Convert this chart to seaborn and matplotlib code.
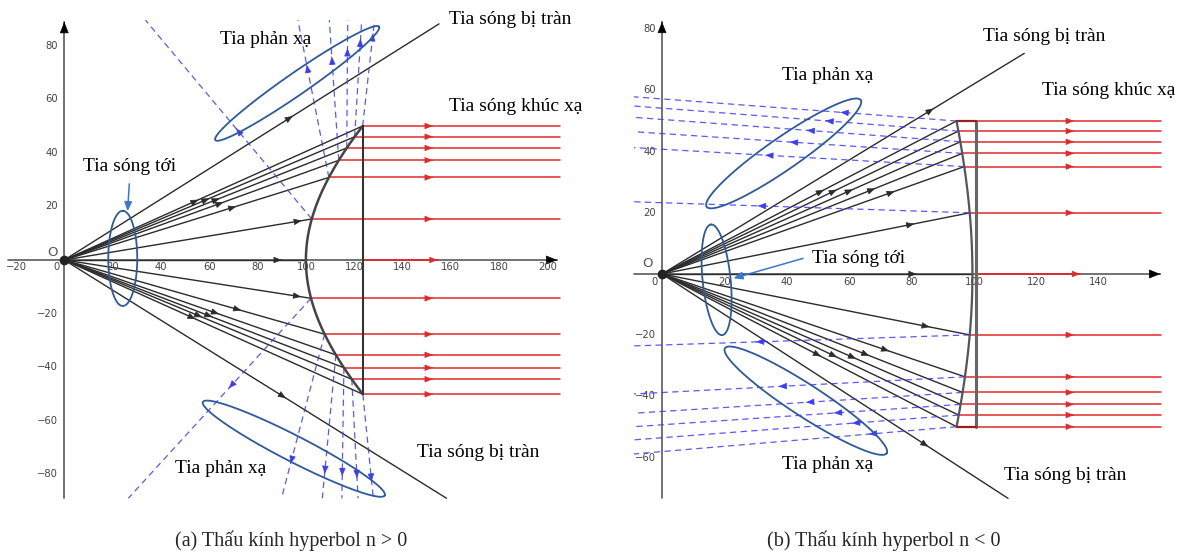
import numpy as np
import pandas as pd
import matplotlib
matplotlib.use("Agg")
import matplotlib.pyplot as plt
import seaborn as sns

sns.set_theme(style="white")
plt.rcParams["font.family"] = ["Liberation Serif", "DejaVu Serif"]

# ---------------- Panel (a): hyperbolic lens, n > 0 ----------------
a_vertex, a_semi_b = 100.0, 69.0          # x^2/a^2 - y^2/b^2 = 1
a_face_x = 123.5                           # flat back face
a_hits_top = [50.0, 46.0, 41.8, 37.2, 30.8, 15.3]
a_hits_bot = [-14.3, -27.7, -35.4, -40.2, -44.5, -50.1]
a_refl_top_x = [128.4, 123.1, 117.3, 109.7, 96.7, 33.6]
a_refl_top_y = 89.5
a_refl_bot_x = [26.5, 89.9, 106.8, 114.9, 121.6, 127.9]
a_refl_bot_y = -88.9
a_spill = [(155.1, 88.1), (158.2, -88.9)]
a_out_x = 205.0
a_xticks = [-20, 20, 40, 60, 80, 100, 120, 140, 160, 180, 200]
a_yticks = [80, 60, 40, 20, -20, -40, -60, -80]

# ---------------- Panel (b): hyperbolic lens, n < 0 ----------------
b_vertex, b_semi_a, b_semi_b = 99.5, 30.0, 82.3
b_face_x = 100.7
b_hits_top = [50.0, 46.7, 43.2, 39.4, 35.1, 20.0]
b_hits_bot = [-19.9, -33.6, -38.7, -42.6, -46.1, -49.9]
b_refl_x = -9.0
b_refl_top_y = [57.9, 54.9, 51.2, 46.5, 41.3, 23.6]
b_refl_bot_y = [-23.5, -39.2, -45.5, -49.9, -54.2, -58.8]
b_spill = [(116.1, 72.1), (110.9, -73.3)]
b_out_x = 160.0
b_xticks = [20, 40, 60, 80, 100, 120, 140]
b_yticks = [80, 60, 40, 20, -20, -40, -60]

RAY = "#2b2b2b"
RED = "#e02a2a"
BLUE = "#3b3bff"
RING = "#2c5a9e"
AXIS = "#5a5a5a"
TICK = "#444444"


def lens_a(y):
    return a_vertex * np.sqrt(1 + (np.asarray(y) / a_semi_b) ** 2)


def lens_b(y):
    return b_vertex - b_semi_a * (np.sqrt(1 + (np.asarray(y) / b_semi_b) ** 2) - 1)


def head(ax, tip, direction, color, size=9, z=5):
    d = np.asarray(direction, float)
    d = d / np.hypot(*d) * 0.02
    ax.annotate("", xy=tip, xytext=(tip[0] - d[0], tip[1] - d[1]),
                arrowprops=dict(arrowstyle="-|>,head_length=0.55,head_width=0.22",
                                fc=color, ec=color, lw=0.5, shrinkA=0, shrinkB=0,
                                mutation_scale=size), zorder=z)


def segments(ax, segs, color, lw, ls="-", alpha=1.0, z=2):
    rows = []
    for k, (p, q) in enumerate(segs):
        rows.append({"x": p[0], "y": p[1], "ray": k})
        rows.append({"x": q[0], "y": q[1], "ray": k})
    df = pd.DataFrame(rows)
    sns.lineplot(data=df, x="x", y="y", units="ray", estimator=None, sort=False,
                 color=color, lw=lw, ls=ls, alpha=alpha, ax=ax, legend=False, zorder=z)


def along(p, q, f):
    return (p[0] + (q[0] - p[0]) * f, p[1] + (q[1] - p[1]) * f)


def ring(ax, center, semi_major, semi_minor, angle):
    # ellipse drawn with its size given in screen pixels
    t0 = ax.transData.transform((0, 0))
    sx = ax.transData.transform((1, 0))[0] - t0[0]
    sy = ax.transData.transform((0, 1))[1] - t0[1]
    t = np.linspace(0, 2 * np.pi, 300)
    th = np.radians(angle)
    u, v = semi_major * np.cos(t), semi_minor * np.sin(t)
    dx = u * np.cos(th) - v * np.sin(th)
    dy = u * np.sin(th) + v * np.cos(th)
    ax.plot(center[0] + dx / sx, center[1] + dy / sy, color=RING, lw=1.3, zorder=6)


def axes_cross(ax, xlo, xhi, ylo, yhi, xticks, yticks, xlab_dy, ylab_dx, zero_pos, o_pos):
    ax.plot([xlo, xhi], [0, 0], color=AXIS, lw=1.2, zorder=1)
    ax.plot([0, 0], [ylo, yhi], color=AXIS, lw=1.2, zorder=1)
    head(ax, (xhi, 0), (1, 0), "black", size=13, z=3)
    head(ax, (0, yhi), (0, 1), "black", size=13, z=3)
    for t in xticks:
        ax.text(t, xlab_dy, f"{t}".replace("-", "\u2212"), ha="center", va="center",
                fontsize=7.2, color=TICK, family="DejaVu Sans")
    for t in yticks:
        ax.text(ylab_dx, t, f"{t}".replace("-", "\u2212"), ha="right", va="center",
                fontsize=7.2, color=TICK, family="DejaVu Sans")
    ax.text(zero_pos[0], zero_pos[1], "0", ha="center", va="center",
            fontsize=7.2, color=TICK, family="DejaVu Sans")
    ax.text(o_pos[0], o_pos[1], "O", ha="center", va="center",
            fontsize=9.5, color="#555555", family="DejaVu Sans")
    ax.plot([0], [0], "o", color="#222222", ms=6, zorder=8)


fig = plt.figure(figsize=(11.89, 5.56), dpi=100)
axA = fig.add_axes([0, 46 / 556, 595 / 1189, 510 / 556])
axB = fig.add_axes([600 / 1189, 46 / 556, 589 / 1189, 510 / 556])
axA.set_xlim(-26.61, 219.66)
axA.set_ylim(-93.28, 97.01)
axB.set_xlim(-19.87, 168.91)
axB.set_ylim(-77.12, 89.54)
for ax in (axA, axB):
    ax.set_axis_off()

LBL = dict(fontsize=14, color="black", va="center", ha="left")

# ======================= panel (a) =======================
ax = axA
axes_cross(ax, -23.4, 204.0, -88.8, 88.8, a_xticks, a_yticks,
           xlab_dy=-2.7, ylab_dx=-2.5, zero_pos=(-3.4, -2.7), o_pos=(-4.8, 2.9))

ys = np.linspace(min(a_hits_bot), max(a_hits_top), 300)
ax.plot(lens_a(ys), ys, color="#444444", lw=1.8, zorder=4)
ax.plot([a_face_x, a_face_x], [min(a_hits_bot), max(a_hits_top)], color="#333333", lw=1.5, zorder=4)

O = (0.0, 0.0)
hits = [(float(lens_a(y)), y) for y in a_hits_top + a_hits_bot]
segments(ax, [(O, h) for h in hits] + [(O, (a_vertex, 0))] + [(O, s) for s in a_spill], RAY, 1.0)
frac_top = [0.45, 0.5, 0.55, 0.58, 0.65, 0.96]
frac_bot = [0.96, 0.68, 0.57, 0.53, 0.48, 0.44]
for h, f in zip(hits, frac_top + frac_bot):
    head(ax, along(O, h, f), h, RAY)
head(ax, (0.9 * a_vertex, 0), (1, 0), RAY)
for s, f in zip(a_spill, [0.61, 0.58]):
    head(ax, along(O, s, f), s, RAY)

# refracted rays leave parallel to the axis
segments(ax, [(h, (a_out_x, h[1])) for h in hits], RED, 1.1, z=3)
segments(ax, [((a_face_x, 0), (154.5, 0))], RED, 1.3, z=3)
for h in hits:
    head(ax, (152.5, h[1]), (1, 0), RED)
head(ax, (154.5, 0), (1, 0), RED)

# reflected rays
top_hits = hits[:6]
bot_hits = hits[6:]
refl = [(h, (x, a_refl_top_y)) for h, x in zip(top_hits, a_refl_top_x)]
refl += [(h, (x, a_refl_bot_y)) for h, x in zip(bot_hits, a_refl_bot_x)]
segments(ax, refl, BLUE, 0.9, ls=(0, (5, 3.5)), alpha=0.85, z=3)
for (p, q), f in zip(refl, [0.876, 0.84, 0.78, 0.74, 0.716, 0.456,
                             0.45, 0.79, 0.83, 0.83, 0.83, 0.84]):
    head(ax, along(p, q, f), (q[0] - p[0], q[1] - p[1]), BLUE)

ring(ax, (24.2, 0.6), 47.6, 14.5, 90)
ring(ax, (96.4, 65.9), 99.6, 11, 34.7)
ring(ax, (95.0, -70.4), 102.2, 13, -27.2)
ax.annotate("", xy=(26.2, 18.2), xytext=(26.9, 28.4),
            arrowprops=dict(arrowstyle="-|>,head_length=0.6,head_width=0.25", color="#3a78d0",
                            lw=1.1, shrinkA=0, shrinkB=0, mutation_scale=9))

ax.text(159.1, 89.6, "Tia sóng bị tràn", **LBL)
ax.text(64.4, 82.1, "Tia phản xạ", **LBL)
ax.text(159.1, 57.2, "Tia sóng khúc xạ", **LBL)
ax.text(7.9, 34.8, "Tia sóng tới", **LBL)
ax.text(45.9, -77.7, "Tia phản xạ", **LBL)
ax.text(145.8, -71.9, "Tia sóng bị tràn", **LBL)

# ======================= panel (b) =======================
ax = axB
axes_cross(ax, -9.0, 159.7, -73.2, 82.4, b_xticks, b_yticks,
           xlab_dy=-2.5, ylab_dx=-2.0, zero_pos=(-2.4, -2.5), o_pos=(-4.5, 3.5))

ys = np.linspace(min(b_hits_bot), max(b_hits_top), 300)
ax.plot(lens_b(ys), ys, color="#555555", lw=1.6, zorder=4)
ax.plot([b_face_x, b_face_x], [min(b_hits_bot), max(b_hits_top)], color="#666666", lw=2.2, zorder=4)

hits = [(float(lens_b(y)), y) for y in b_hits_top + b_hits_bot]
segments(ax, [(O, h) for h in hits] + [(O, (b_vertex, 0))] + [(O, s) for s in b_spill], RAY, 1.0)
frac_top = [0.55, 0.59, 0.64, 0.71, 0.77, 0.82]
frac_bot = [0.87, 0.75, 0.69, 0.65, 0.59, 0.54]
for h, f in zip(hits, frac_top + frac_bot):
    head(ax, along(O, h, f), h, RAY)
head(ax, (0.82 * b_vertex, 0), (1, 0), RAY)
for s, f in zip(b_spill, [0.75, 0.77]):
    head(ax, along(O, s, f), s, RAY)

segments(ax, [(h, (b_out_x, h[1])) for h in hits], RED, 1.1, z=3)
segments(ax, [((b_face_x, 0), (134.0, 0))], RED, 1.3, z=3)
for h in hits:
    head(ax, (132.0, h[1]), (1, 0), RED)
head(ax, (134.0, 0), (1, 0), RED)
for yb in (max(b_hits_top), min(b_hits_bot)):
    ax.plot([float(lens_b(yb)), b_face_x], [yb, yb], color="#9a2020", lw=1.6, zorder=5)

refl = [(h, (b_refl_x, y)) for h, y in zip(hits[:6], b_refl_top_y)]
refl += [(h, (b_refl_x, y)) for h, y in zip(hits[6:], b_refl_bot_y)]
segments(ax, refl, BLUE, 0.9, ls=(0, (5, 3.5)), alpha=0.85, z=3)
arrow_x = [57.2, 52.4, 46.4, 41.0, 33.1, 30.7, 30.1, 37.4, 46.2, 55.1, 60.9, 66.3]
for (p, q), xa in zip(refl, arrow_x):
    f = (p[0] - xa) / (p[0] - q[0])
    head(ax, along(p, q, f), (q[0] - p[0], q[1] - p[1]), BLUE)

ring(ax, (17.5, -1.9), 55.6, 14, 95.8)
ring(ax, (39.0, 39.4), 93.7, 16, 34.7)
ring(ax, (46.1, -41.4), 96.4, 16, -33.0)
ax.annotate("", xy=(22.9, -1.4), xytext=(45.2, 5.1),
            arrowprops=dict(arrowstyle="-|>,head_length=0.6,head_width=0.25", color="#3a78d0",
                            lw=1.1, shrinkA=0, shrinkB=0, mutation_scale=9))

ax.text(102.8, 77.6, "Tia sóng bị tràn", **LBL)
ax.text(38.6, 65.0, "Tia phản xạ", **LBL)
ax.text(121.7, 59.9, "Tia sóng khúc xạ", **LBL)
ax.text(48.2, 5.1, "Tia sóng tới", **LBL)
ax.text(38.6, -62.1, "Tia phản xạ", **LBL)
ax.text(109.6, -66.0, "Tia sóng bị tràn", **LBL)

fig.text(291 / 1189, 1 - 541 / 556, "(a) Thấu kính hyperbol n > 0", ha="center", va="center", fontsize=14.5)
fig.text(884 / 1189, 1 - 541 / 556, "(b) Thấu kính hyperbol n < 0", ha="center", va="center", fontsize=14.5)

fig.savefig("out.png", dpi=100)
